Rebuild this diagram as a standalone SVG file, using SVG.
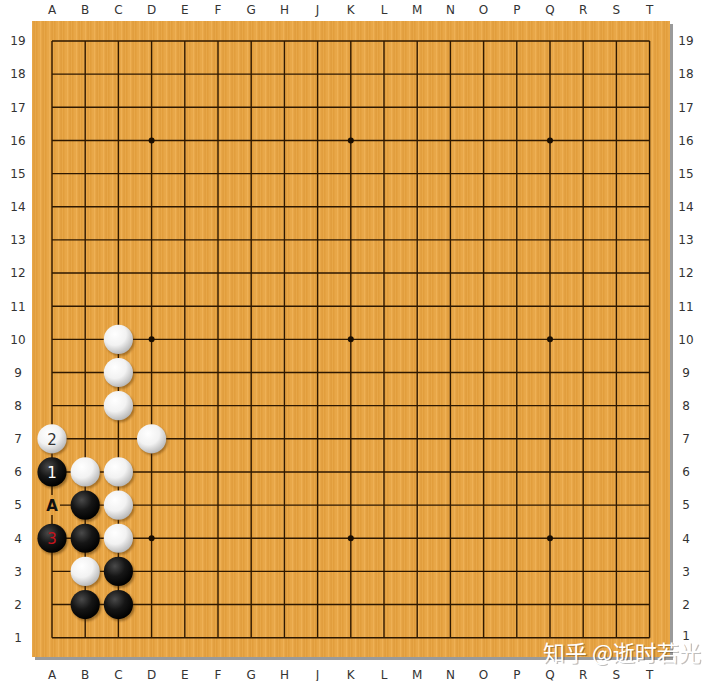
<svg xmlns="http://www.w3.org/2000/svg" width="720" height="681" viewBox="0 0 720 681">
<defs>
<pattern id="wood" patternUnits="userSpaceOnUse" width="9" height="10">
<rect width="9" height="10" fill="#e8a748"/>
<rect x="0" width="1.5" height="10" fill="#e29e3c"/>
<rect x="4" width="1" height="10" fill="#eeb055"/>
<rect x="6.5" width="1.2" height="10" fill="#de9a3a"/>
</pattern>
<radialGradient id="wg" cx="0.38" cy="0.32" r="0.7">
<stop offset="0" stop-color="#ffffff"/>
<stop offset="0.55" stop-color="#f2f2f2"/>
<stop offset="1" stop-color="#b8b8b8"/>
</radialGradient>
<radialGradient id="bg" cx="0.38" cy="0.32" r="0.7">
<stop offset="0" stop-color="#4a4a4a"/>
<stop offset="0.5" stop-color="#161616"/>
<stop offset="1" stop-color="#000000"/>
</radialGradient>
<filter id="sh" x="-30%" y="-30%" width="160%" height="160%">
<feGaussianBlur stdDeviation="1.2"/>
</filter>
<symbol id="w" overflow="visible">
<circle cx="1.5" cy="2" r="14.6" fill="#5a3300" opacity="0.45" filter="url(#sh)"/>
<circle r="14.6" fill="url(#wg)"/>
</symbol>
<symbol id="b" overflow="visible">
<circle cx="1.5" cy="2" r="14.6" fill="#3a2000" opacity="0.45" filter="url(#sh)"/>
<circle r="14.6" fill="url(#bg)"/>
</symbol>
<style>
.coord{font-family:"DejaVu Sans","Liberation Sans",sans-serif;font-size:12px;fill:#333;text-anchor:middle}
.grid{stroke:#2e1800;stroke-width:1.4;fill:none}
.star{fill:#1a0e00}
.num{font-family:"DejaVu Sans","Liberation Sans",sans-serif;font-size:15px;text-anchor:middle;dominant-baseline:central}
</style>
</defs>
<rect width="720" height="681" fill="#ffffff"/>
<rect x="35" y="24" width="638" height="636" fill="#9a9a9a"/>
<rect x="32" y="21" width="638" height="636" fill="url(#wood)"/>
<g id="grid">
<path class="grid" d="M52 41V637.7M85.2 41V637.7M118.4 41V637.7M151.6 41V637.7M184.8 41V637.7M218 41V637.7M251.2 41V637.7M284.4 41V637.7M317.6 41V637.7M350.8 41V637.7M384 41V637.7M417.2 41V637.7M450.4 41V637.7M483.6 41V637.7M516.8 41V637.7M550 41V637.7M583.2 41V637.7M616.4 41V637.7M649.6 41V637.7"/>
<path class="grid" d="M52 41H649.6M52 74.15H649.6M52 107.3H649.6M52 140.45H649.6M52 173.6H649.6M52 206.75H649.6M52 239.9H649.6M52 273.05H649.6M52 306.2H649.6M52 339.35H649.6M52 372.5H649.6M52 405.65H649.6M52 438.8H649.6M52 471.95H649.6M52 505.1H649.6M52 538.25H649.6M52 571.4H649.6M52 604.55H649.6M52 637.7H649.6"/>
<circle class="star" cx="151.6" cy="140.45" r="3"/>
<circle class="star" cx="350.8" cy="140.45" r="3"/>
<circle class="star" cx="550" cy="140.45" r="3"/>
<circle class="star" cx="151.6" cy="339.35" r="3"/>
<circle class="star" cx="350.8" cy="339.35" r="3"/>
<circle class="star" cx="550" cy="339.35" r="3"/>
<circle class="star" cx="151.6" cy="538.25" r="3"/>
<circle class="star" cx="350.8" cy="538.25" r="3"/>
<circle class="star" cx="550" cy="538.25" r="3"/>
</g>
<g id="coords">
<text class="coord" x="52" y="14">A</text><text class="coord" x="85.2" y="14">B</text><text class="coord" x="118.4" y="14">C</text><text class="coord" x="151.6" y="14">D</text><text class="coord" x="184.8" y="14">E</text><text class="coord" x="218" y="14">F</text><text class="coord" x="251.2" y="14">G</text><text class="coord" x="284.4" y="14">H</text><text class="coord" x="317.6" y="14">J</text><text class="coord" x="350.8" y="14">K</text><text class="coord" x="384" y="14">L</text><text class="coord" x="417.2" y="14">M</text><text class="coord" x="450.4" y="14">N</text><text class="coord" x="483.6" y="14">O</text><text class="coord" x="516.8" y="14">P</text><text class="coord" x="550" y="14">Q</text><text class="coord" x="583.2" y="14">R</text><text class="coord" x="616.4" y="14">S</text><text class="coord" x="649.6" y="14">T</text>
<text class="coord" x="52" y="679">A</text><text class="coord" x="85.2" y="679">B</text><text class="coord" x="118.4" y="679">C</text><text class="coord" x="151.6" y="679">D</text><text class="coord" x="184.8" y="679">E</text><text class="coord" x="218" y="679">F</text><text class="coord" x="251.2" y="679">G</text><text class="coord" x="284.4" y="679">H</text><text class="coord" x="317.6" y="679">J</text><text class="coord" x="350.8" y="679">K</text><text class="coord" x="384" y="679">L</text><text class="coord" x="417.2" y="679">M</text><text class="coord" x="450.4" y="679">N</text><text class="coord" x="483.6" y="679">O</text><text class="coord" x="516.8" y="679">P</text><text class="coord" x="550" y="679">Q</text><text class="coord" x="583.2" y="679">R</text><text class="coord" x="616.4" y="679">S</text><text class="coord" x="649.6" y="679">T</text>
<text class="coord" x="18" y="45.3">19</text><text class="coord" x="18" y="78.4">18</text><text class="coord" x="18" y="111.6">17</text><text class="coord" x="18" y="144.7">16</text><text class="coord" x="18" y="177.9">15</text><text class="coord" x="18" y="211">14</text><text class="coord" x="18" y="244.2">13</text><text class="coord" x="18" y="277.3">12</text><text class="coord" x="18" y="310.5">11</text><text class="coord" x="18" y="343.6">10</text><text class="coord" x="18" y="376.8">9</text><text class="coord" x="18" y="409.9">8</text><text class="coord" x="18" y="443.1">7</text><text class="coord" x="18" y="476.2">6</text><text class="coord" x="18" y="509.4">5</text><text class="coord" x="18" y="542.5">4</text><text class="coord" x="18" y="575.7">3</text><text class="coord" x="18" y="608.8">2</text><text class="coord" x="18" y="642">1</text>
<text class="coord" x="686" y="45.3">19</text><text class="coord" x="686" y="78.4">18</text><text class="coord" x="686" y="111.6">17</text><text class="coord" x="686" y="144.7">16</text><text class="coord" x="686" y="177.9">15</text><text class="coord" x="686" y="211">14</text><text class="coord" x="686" y="244.2">13</text><text class="coord" x="686" y="277.3">12</text><text class="coord" x="686" y="310.5">11</text><text class="coord" x="686" y="343.6">10</text><text class="coord" x="686" y="376.8">9</text><text class="coord" x="686" y="409.9">8</text><text class="coord" x="686" y="443.1">7</text><text class="coord" x="686" y="476.2">6</text><text class="coord" x="686" y="509.4">5</text><text class="coord" x="686" y="542.5">4</text><text class="coord" x="686" y="575.7">3</text><text class="coord" x="686" y="608.8">2</text><text class="coord" x="686" y="640">1</text>
</g>
<g id="label-A">
<rect x="44" y="495" width="16" height="20" fill="url(#wood)"/>
<text x="52" y="505.6" class="num" style="font-weight:bold;font-size:15px;fill:#111">A</text>
</g>
<g id="W-C10"><use href="#w" x="118.4" y="339.35"/></g>
<g id="W-C9"><use href="#w" x="118.4" y="372.5"/></g>
<g id="W-C8"><use href="#w" x="118.4" y="405.65"/></g>
<g id="W-D7"><use href="#w" x="151.6" y="438.8"/></g>
<g id="W-B6"><use href="#w" x="85.2" y="471.95"/></g>
<g id="W-C6"><use href="#w" x="118.4" y="471.95"/></g>
<g id="W-C5"><use href="#w" x="118.4" y="505.1"/></g>
<g id="W-C4"><use href="#w" x="118.4" y="538.25"/></g>
<g id="W-B3"><use href="#w" x="85.2" y="571.4"/></g>
<g id="W-A7-move2"><use href="#w" x="52" y="438.8"/><text class="num" x="52" y="439.8" fill="#333">2</text></g>
<g id="B-A6-move1"><use href="#b" x="52" y="471.95"/><text class="num" x="52" y="472.9" fill="#ffffff">1</text></g>
<g id="B-B5"><use href="#b" x="85.2" y="505.1"/></g>
<g id="B-A4-move3"><use href="#b" x="52" y="538.25"/><text class="num" x="52" y="539.2" fill="#c8141e">3</text></g>
<g id="B-B4"><use href="#b" x="85.2" y="538.25"/></g>
<g id="B-C3"><use href="#b" x="118.4" y="571.4"/></g>
<g id="B-B2"><use href="#b" x="85.2" y="604.55"/></g>
<g id="B-C2"><use href="#b" x="118.4" y="604.55"/></g>
<g id="watermark">
<text x="544.5" y="662" style="font-family:'Noto Sans CJK SC','Noto Sans',sans-serif;font-size:22px;fill:#000;opacity:0.25">知乎 @逝时若光</text>
<text x="543" y="660.5" style="font-family:'Noto Sans CJK SC','Noto Sans',sans-serif;font-size:22px;fill:#ffffff">知乎 @逝时若光</text>
</g>
</svg>
